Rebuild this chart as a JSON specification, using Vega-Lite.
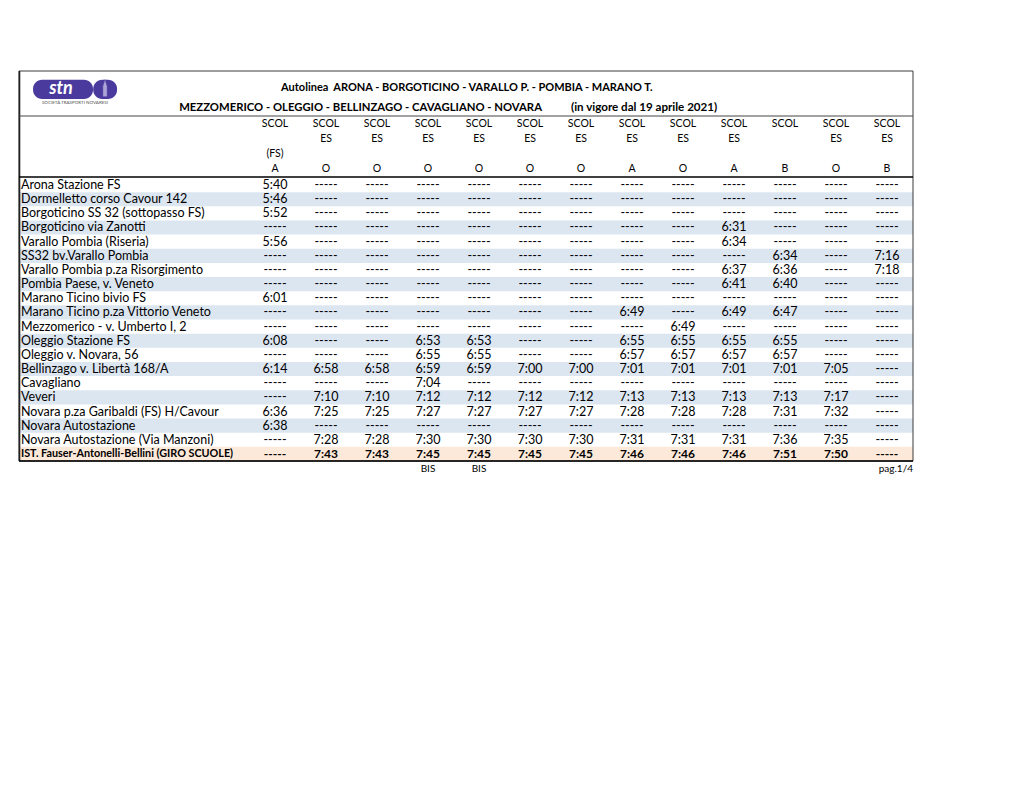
{
"$schema":"https://vega.github.io/schema/vega-lite/v6.json",
"width":1020,"height":788,"padding":0,"autosize":"none","background":"white",
"config":{"view":{"stroke":null},"text":{"font":"Lato","fill":"black"}},
"datasets":{
"stops":[{"stop":"Arona Stazione FS"},{"stop":"Dormelletto corso Cavour 142"},{"stop":"Borgoticino SS 32 (sottopasso FS)"},{"stop":"Borgoticino via Zanotti"},{"stop":"Varallo Pombia (Riseria)"},{"stop":"SS32 bv.Varallo Pombia"},{"stop":"Varallo Pombia p.za Risorgimento"},{"stop":"Pombia Paese, v. Veneto"},{"stop":"Marano Ticino bivio FS"},{"stop":"Marano Ticino p.za Vittorio Veneto"},{"stop":"Mezzomerico - v. Umberto I, 2"},{"stop":"Oleggio Stazione FS"},{"stop":"Oleggio v. Novara, 56"},{"stop":"Bellinzago v. Libertà 168/A"},{"stop":"Cavagliano"},{"stop":"Veveri"},{"stop":"Novara p.za Garibaldi (FS) H/Cavour"},{"stop":"Novara Autostazione"},{"stop":"Novara Autostazione (Via Manzoni)"},{"stop":"IST. Fauser-Antonelli-Bellini (GIRO SCUOLE)"}],
"times":[
{"stop":"Arona Stazione FS","run":1,"time":"5:40"},{"stop":"Arona Stazione FS","run":2,"time":"-----"},{"stop":"Arona Stazione FS","run":3,"time":"-----"},{"stop":"Arona Stazione FS","run":4,"time":"-----"},{"stop":"Arona Stazione FS","run":5,"time":"-----"},{"stop":"Arona Stazione FS","run":6,"time":"-----"},{"stop":"Arona Stazione FS","run":7,"time":"-----"},{"stop":"Arona Stazione FS","run":8,"time":"-----"},{"stop":"Arona Stazione FS","run":9,"time":"-----"},{"stop":"Arona Stazione FS","run":10,"time":"-----"},{"stop":"Arona Stazione FS","run":11,"time":"-----"},{"stop":"Arona Stazione FS","run":12,"time":"-----"},{"stop":"Arona Stazione FS","run":13,"time":"-----"},
{"stop":"Dormelletto corso Cavour 142","run":1,"time":"5:46"},{"stop":"Dormelletto corso Cavour 142","run":2,"time":"-----"},{"stop":"Dormelletto corso Cavour 142","run":3,"time":"-----"},{"stop":"Dormelletto corso Cavour 142","run":4,"time":"-----"},{"stop":"Dormelletto corso Cavour 142","run":5,"time":"-----"},{"stop":"Dormelletto corso Cavour 142","run":6,"time":"-----"},{"stop":"Dormelletto corso Cavour 142","run":7,"time":"-----"},{"stop":"Dormelletto corso Cavour 142","run":8,"time":"-----"},{"stop":"Dormelletto corso Cavour 142","run":9,"time":"-----"},{"stop":"Dormelletto corso Cavour 142","run":10,"time":"-----"},{"stop":"Dormelletto corso Cavour 142","run":11,"time":"-----"},{"stop":"Dormelletto corso Cavour 142","run":12,"time":"-----"},{"stop":"Dormelletto corso Cavour 142","run":13,"time":"-----"},
{"stop":"Borgoticino SS 32 (sottopasso FS)","run":1,"time":"5:52"},{"stop":"Borgoticino SS 32 (sottopasso FS)","run":2,"time":"-----"},{"stop":"Borgoticino SS 32 (sottopasso FS)","run":3,"time":"-----"},{"stop":"Borgoticino SS 32 (sottopasso FS)","run":4,"time":"-----"},{"stop":"Borgoticino SS 32 (sottopasso FS)","run":5,"time":"-----"},{"stop":"Borgoticino SS 32 (sottopasso FS)","run":6,"time":"-----"},{"stop":"Borgoticino SS 32 (sottopasso FS)","run":7,"time":"-----"},{"stop":"Borgoticino SS 32 (sottopasso FS)","run":8,"time":"-----"},{"stop":"Borgoticino SS 32 (sottopasso FS)","run":9,"time":"-----"},{"stop":"Borgoticino SS 32 (sottopasso FS)","run":10,"time":"-----"},{"stop":"Borgoticino SS 32 (sottopasso FS)","run":11,"time":"-----"},{"stop":"Borgoticino SS 32 (sottopasso FS)","run":12,"time":"-----"},{"stop":"Borgoticino SS 32 (sottopasso FS)","run":13,"time":"-----"},
{"stop":"Borgoticino via Zanotti","run":1,"time":"-----"},{"stop":"Borgoticino via Zanotti","run":2,"time":"-----"},{"stop":"Borgoticino via Zanotti","run":3,"time":"-----"},{"stop":"Borgoticino via Zanotti","run":4,"time":"-----"},{"stop":"Borgoticino via Zanotti","run":5,"time":"-----"},{"stop":"Borgoticino via Zanotti","run":6,"time":"-----"},{"stop":"Borgoticino via Zanotti","run":7,"time":"-----"},{"stop":"Borgoticino via Zanotti","run":8,"time":"-----"},{"stop":"Borgoticino via Zanotti","run":9,"time":"-----"},{"stop":"Borgoticino via Zanotti","run":10,"time":"6:31"},{"stop":"Borgoticino via Zanotti","run":11,"time":"-----"},{"stop":"Borgoticino via Zanotti","run":12,"time":"-----"},{"stop":"Borgoticino via Zanotti","run":13,"time":"-----"},
{"stop":"Varallo Pombia (Riseria)","run":1,"time":"5:56"},{"stop":"Varallo Pombia (Riseria)","run":2,"time":"-----"},{"stop":"Varallo Pombia (Riseria)","run":3,"time":"-----"},{"stop":"Varallo Pombia (Riseria)","run":4,"time":"-----"},{"stop":"Varallo Pombia (Riseria)","run":5,"time":"-----"},{"stop":"Varallo Pombia (Riseria)","run":6,"time":"-----"},{"stop":"Varallo Pombia (Riseria)","run":7,"time":"-----"},{"stop":"Varallo Pombia (Riseria)","run":8,"time":"-----"},{"stop":"Varallo Pombia (Riseria)","run":9,"time":"-----"},{"stop":"Varallo Pombia (Riseria)","run":10,"time":"6:34"},{"stop":"Varallo Pombia (Riseria)","run":11,"time":"-----"},{"stop":"Varallo Pombia (Riseria)","run":12,"time":"-----"},{"stop":"Varallo Pombia (Riseria)","run":13,"time":"-----"},
{"stop":"SS32 bv.Varallo Pombia","run":1,"time":"-----"},{"stop":"SS32 bv.Varallo Pombia","run":2,"time":"-----"},{"stop":"SS32 bv.Varallo Pombia","run":3,"time":"-----"},{"stop":"SS32 bv.Varallo Pombia","run":4,"time":"-----"},{"stop":"SS32 bv.Varallo Pombia","run":5,"time":"-----"},{"stop":"SS32 bv.Varallo Pombia","run":6,"time":"-----"},{"stop":"SS32 bv.Varallo Pombia","run":7,"time":"-----"},{"stop":"SS32 bv.Varallo Pombia","run":8,"time":"-----"},{"stop":"SS32 bv.Varallo Pombia","run":9,"time":"-----"},{"stop":"SS32 bv.Varallo Pombia","run":10,"time":"-----"},{"stop":"SS32 bv.Varallo Pombia","run":11,"time":"6:34"},{"stop":"SS32 bv.Varallo Pombia","run":12,"time":"-----"},{"stop":"SS32 bv.Varallo Pombia","run":13,"time":"7:16"},
{"stop":"Varallo Pombia p.za Risorgimento","run":1,"time":"-----"},{"stop":"Varallo Pombia p.za Risorgimento","run":2,"time":"-----"},{"stop":"Varallo Pombia p.za Risorgimento","run":3,"time":"-----"},{"stop":"Varallo Pombia p.za Risorgimento","run":4,"time":"-----"},{"stop":"Varallo Pombia p.za Risorgimento","run":5,"time":"-----"},{"stop":"Varallo Pombia p.za Risorgimento","run":6,"time":"-----"},{"stop":"Varallo Pombia p.za Risorgimento","run":7,"time":"-----"},{"stop":"Varallo Pombia p.za Risorgimento","run":8,"time":"-----"},{"stop":"Varallo Pombia p.za Risorgimento","run":9,"time":"-----"},{"stop":"Varallo Pombia p.za Risorgimento","run":10,"time":"6:37"},{"stop":"Varallo Pombia p.za Risorgimento","run":11,"time":"6:36"},{"stop":"Varallo Pombia p.za Risorgimento","run":12,"time":"-----"},{"stop":"Varallo Pombia p.za Risorgimento","run":13,"time":"7:18"},
{"stop":"Pombia Paese, v. Veneto","run":1,"time":"-----"},{"stop":"Pombia Paese, v. Veneto","run":2,"time":"-----"},{"stop":"Pombia Paese, v. Veneto","run":3,"time":"-----"},{"stop":"Pombia Paese, v. Veneto","run":4,"time":"-----"},{"stop":"Pombia Paese, v. Veneto","run":5,"time":"-----"},{"stop":"Pombia Paese, v. Veneto","run":6,"time":"-----"},{"stop":"Pombia Paese, v. Veneto","run":7,"time":"-----"},{"stop":"Pombia Paese, v. Veneto","run":8,"time":"-----"},{"stop":"Pombia Paese, v. Veneto","run":9,"time":"-----"},{"stop":"Pombia Paese, v. Veneto","run":10,"time":"6:41"},{"stop":"Pombia Paese, v. Veneto","run":11,"time":"6:40"},{"stop":"Pombia Paese, v. Veneto","run":12,"time":"-----"},{"stop":"Pombia Paese, v. Veneto","run":13,"time":"-----"},
{"stop":"Marano Ticino bivio FS","run":1,"time":"6:01"},{"stop":"Marano Ticino bivio FS","run":2,"time":"-----"},{"stop":"Marano Ticino bivio FS","run":3,"time":"-----"},{"stop":"Marano Ticino bivio FS","run":4,"time":"-----"},{"stop":"Marano Ticino bivio FS","run":5,"time":"-----"},{"stop":"Marano Ticino bivio FS","run":6,"time":"-----"},{"stop":"Marano Ticino bivio FS","run":7,"time":"-----"},{"stop":"Marano Ticino bivio FS","run":8,"time":"-----"},{"stop":"Marano Ticino bivio FS","run":9,"time":"-----"},{"stop":"Marano Ticino bivio FS","run":10,"time":"-----"},{"stop":"Marano Ticino bivio FS","run":11,"time":"-----"},{"stop":"Marano Ticino bivio FS","run":12,"time":"-----"},{"stop":"Marano Ticino bivio FS","run":13,"time":"-----"},
{"stop":"Marano Ticino p.za Vittorio Veneto","run":1,"time":"-----"},{"stop":"Marano Ticino p.za Vittorio Veneto","run":2,"time":"-----"},{"stop":"Marano Ticino p.za Vittorio Veneto","run":3,"time":"-----"},{"stop":"Marano Ticino p.za Vittorio Veneto","run":4,"time":"-----"},{"stop":"Marano Ticino p.za Vittorio Veneto","run":5,"time":"-----"},{"stop":"Marano Ticino p.za Vittorio Veneto","run":6,"time":"-----"},{"stop":"Marano Ticino p.za Vittorio Veneto","run":7,"time":"-----"},{"stop":"Marano Ticino p.za Vittorio Veneto","run":8,"time":"6:49"},{"stop":"Marano Ticino p.za Vittorio Veneto","run":9,"time":"-----"},{"stop":"Marano Ticino p.za Vittorio Veneto","run":10,"time":"6:49"},{"stop":"Marano Ticino p.za Vittorio Veneto","run":11,"time":"6:47"},{"stop":"Marano Ticino p.za Vittorio Veneto","run":12,"time":"-----"},{"stop":"Marano Ticino p.za Vittorio Veneto","run":13,"time":"-----"},
{"stop":"Mezzomerico - v. Umberto I, 2","run":1,"time":"-----"},{"stop":"Mezzomerico - v. Umberto I, 2","run":2,"time":"-----"},{"stop":"Mezzomerico - v. Umberto I, 2","run":3,"time":"-----"},{"stop":"Mezzomerico - v. Umberto I, 2","run":4,"time":"-----"},{"stop":"Mezzomerico - v. Umberto I, 2","run":5,"time":"-----"},{"stop":"Mezzomerico - v. Umberto I, 2","run":6,"time":"-----"},{"stop":"Mezzomerico - v. Umberto I, 2","run":7,"time":"-----"},{"stop":"Mezzomerico - v. Umberto I, 2","run":8,"time":"-----"},{"stop":"Mezzomerico - v. Umberto I, 2","run":9,"time":"6:49"},{"stop":"Mezzomerico - v. Umberto I, 2","run":10,"time":"-----"},{"stop":"Mezzomerico - v. Umberto I, 2","run":11,"time":"-----"},{"stop":"Mezzomerico - v. Umberto I, 2","run":12,"time":"-----"},{"stop":"Mezzomerico - v. Umberto I, 2","run":13,"time":"-----"},
{"stop":"Oleggio Stazione FS","run":1,"time":"6:08"},{"stop":"Oleggio Stazione FS","run":2,"time":"-----"},{"stop":"Oleggio Stazione FS","run":3,"time":"-----"},{"stop":"Oleggio Stazione FS","run":4,"time":"6:53"},{"stop":"Oleggio Stazione FS","run":5,"time":"6:53"},{"stop":"Oleggio Stazione FS","run":6,"time":"-----"},{"stop":"Oleggio Stazione FS","run":7,"time":"-----"},{"stop":"Oleggio Stazione FS","run":8,"time":"6:55"},{"stop":"Oleggio Stazione FS","run":9,"time":"6:55"},{"stop":"Oleggio Stazione FS","run":10,"time":"6:55"},{"stop":"Oleggio Stazione FS","run":11,"time":"6:55"},{"stop":"Oleggio Stazione FS","run":12,"time":"-----"},{"stop":"Oleggio Stazione FS","run":13,"time":"-----"},
{"stop":"Oleggio v. Novara, 56","run":1,"time":"-----"},{"stop":"Oleggio v. Novara, 56","run":2,"time":"-----"},{"stop":"Oleggio v. Novara, 56","run":3,"time":"-----"},{"stop":"Oleggio v. Novara, 56","run":4,"time":"6:55"},{"stop":"Oleggio v. Novara, 56","run":5,"time":"6:55"},{"stop":"Oleggio v. Novara, 56","run":6,"time":"-----"},{"stop":"Oleggio v. Novara, 56","run":7,"time":"-----"},{"stop":"Oleggio v. Novara, 56","run":8,"time":"6:57"},{"stop":"Oleggio v. Novara, 56","run":9,"time":"6:57"},{"stop":"Oleggio v. Novara, 56","run":10,"time":"6:57"},{"stop":"Oleggio v. Novara, 56","run":11,"time":"6:57"},{"stop":"Oleggio v. Novara, 56","run":12,"time":"-----"},{"stop":"Oleggio v. Novara, 56","run":13,"time":"-----"},
{"stop":"Bellinzago v. Libertà 168/A","run":1,"time":"6:14"},{"stop":"Bellinzago v. Libertà 168/A","run":2,"time":"6:58"},{"stop":"Bellinzago v. Libertà 168/A","run":3,"time":"6:58"},{"stop":"Bellinzago v. Libertà 168/A","run":4,"time":"6:59"},{"stop":"Bellinzago v. Libertà 168/A","run":5,"time":"6:59"},{"stop":"Bellinzago v. Libertà 168/A","run":6,"time":"7:00"},{"stop":"Bellinzago v. Libertà 168/A","run":7,"time":"7:00"},{"stop":"Bellinzago v. Libertà 168/A","run":8,"time":"7:01"},{"stop":"Bellinzago v. Libertà 168/A","run":9,"time":"7:01"},{"stop":"Bellinzago v. Libertà 168/A","run":10,"time":"7:01"},{"stop":"Bellinzago v. Libertà 168/A","run":11,"time":"7:01"},{"stop":"Bellinzago v. Libertà 168/A","run":12,"time":"7:05"},{"stop":"Bellinzago v. Libertà 168/A","run":13,"time":"-----"},
{"stop":"Cavagliano","run":1,"time":"-----"},{"stop":"Cavagliano","run":2,"time":"-----"},{"stop":"Cavagliano","run":3,"time":"-----"},{"stop":"Cavagliano","run":4,"time":"7:04"},{"stop":"Cavagliano","run":5,"time":"-----"},{"stop":"Cavagliano","run":6,"time":"-----"},{"stop":"Cavagliano","run":7,"time":"-----"},{"stop":"Cavagliano","run":8,"time":"-----"},{"stop":"Cavagliano","run":9,"time":"-----"},{"stop":"Cavagliano","run":10,"time":"-----"},{"stop":"Cavagliano","run":11,"time":"-----"},{"stop":"Cavagliano","run":12,"time":"-----"},{"stop":"Cavagliano","run":13,"time":"-----"},
{"stop":"Veveri","run":1,"time":"-----"},{"stop":"Veveri","run":2,"time":"7:10"},{"stop":"Veveri","run":3,"time":"7:10"},{"stop":"Veveri","run":4,"time":"7:12"},{"stop":"Veveri","run":5,"time":"7:12"},{"stop":"Veveri","run":6,"time":"7:12"},{"stop":"Veveri","run":7,"time":"7:12"},{"stop":"Veveri","run":8,"time":"7:13"},{"stop":"Veveri","run":9,"time":"7:13"},{"stop":"Veveri","run":10,"time":"7:13"},{"stop":"Veveri","run":11,"time":"7:13"},{"stop":"Veveri","run":12,"time":"7:17"},{"stop":"Veveri","run":13,"time":"-----"},
{"stop":"Novara p.za Garibaldi (FS) H/Cavour","run":1,"time":"6:36"},{"stop":"Novara p.za Garibaldi (FS) H/Cavour","run":2,"time":"7:25"},{"stop":"Novara p.za Garibaldi (FS) H/Cavour","run":3,"time":"7:25"},{"stop":"Novara p.za Garibaldi (FS) H/Cavour","run":4,"time":"7:27"},{"stop":"Novara p.za Garibaldi (FS) H/Cavour","run":5,"time":"7:27"},{"stop":"Novara p.za Garibaldi (FS) H/Cavour","run":6,"time":"7:27"},{"stop":"Novara p.za Garibaldi (FS) H/Cavour","run":7,"time":"7:27"},{"stop":"Novara p.za Garibaldi (FS) H/Cavour","run":8,"time":"7:28"},{"stop":"Novara p.za Garibaldi (FS) H/Cavour","run":9,"time":"7:28"},{"stop":"Novara p.za Garibaldi (FS) H/Cavour","run":10,"time":"7:28"},{"stop":"Novara p.za Garibaldi (FS) H/Cavour","run":11,"time":"7:31"},{"stop":"Novara p.za Garibaldi (FS) H/Cavour","run":12,"time":"7:32"},{"stop":"Novara p.za Garibaldi (FS) H/Cavour","run":13,"time":"-----"},
{"stop":"Novara Autostazione","run":1,"time":"6:38"},{"stop":"Novara Autostazione","run":2,"time":"-----"},{"stop":"Novara Autostazione","run":3,"time":"-----"},{"stop":"Novara Autostazione","run":4,"time":"-----"},{"stop":"Novara Autostazione","run":5,"time":"-----"},{"stop":"Novara Autostazione","run":6,"time":"-----"},{"stop":"Novara Autostazione","run":7,"time":"-----"},{"stop":"Novara Autostazione","run":8,"time":"-----"},{"stop":"Novara Autostazione","run":9,"time":"-----"},{"stop":"Novara Autostazione","run":10,"time":"-----"},{"stop":"Novara Autostazione","run":11,"time":"-----"},{"stop":"Novara Autostazione","run":12,"time":"-----"},{"stop":"Novara Autostazione","run":13,"time":"-----"},
{"stop":"Novara Autostazione (Via Manzoni)","run":1,"time":"-----"},{"stop":"Novara Autostazione (Via Manzoni)","run":2,"time":"7:28"},{"stop":"Novara Autostazione (Via Manzoni)","run":3,"time":"7:28"},{"stop":"Novara Autostazione (Via Manzoni)","run":4,"time":"7:30"},{"stop":"Novara Autostazione (Via Manzoni)","run":5,"time":"7:30"},{"stop":"Novara Autostazione (Via Manzoni)","run":6,"time":"7:30"},{"stop":"Novara Autostazione (Via Manzoni)","run":7,"time":"7:30"},{"stop":"Novara Autostazione (Via Manzoni)","run":8,"time":"7:31"},{"stop":"Novara Autostazione (Via Manzoni)","run":9,"time":"7:31"},{"stop":"Novara Autostazione (Via Manzoni)","run":10,"time":"7:31"},{"stop":"Novara Autostazione (Via Manzoni)","run":11,"time":"7:36"},{"stop":"Novara Autostazione (Via Manzoni)","run":12,"time":"7:35"},{"stop":"Novara Autostazione (Via Manzoni)","run":13,"time":"-----"},
{"stop":"IST. Fauser-Antonelli-Bellini (GIRO SCUOLE)","run":1,"time":"-----"},{"stop":"IST. Fauser-Antonelli-Bellini (GIRO SCUOLE)","run":2,"time":"7:43"},{"stop":"IST. Fauser-Antonelli-Bellini (GIRO SCUOLE)","run":3,"time":"7:43"},{"stop":"IST. Fauser-Antonelli-Bellini (GIRO SCUOLE)","run":4,"time":"7:45"},{"stop":"IST. Fauser-Antonelli-Bellini (GIRO SCUOLE)","run":5,"time":"7:45"},{"stop":"IST. Fauser-Antonelli-Bellini (GIRO SCUOLE)","run":6,"time":"7:45"},{"stop":"IST. Fauser-Antonelli-Bellini (GIRO SCUOLE)","run":7,"time":"7:45"},{"stop":"IST. Fauser-Antonelli-Bellini (GIRO SCUOLE)","run":8,"time":"7:46"},{"stop":"IST. Fauser-Antonelli-Bellini (GIRO SCUOLE)","run":9,"time":"7:46"},{"stop":"IST. Fauser-Antonelli-Bellini (GIRO SCUOLE)","run":10,"time":"7:46"},{"stop":"IST. Fauser-Antonelli-Bellini (GIRO SCUOLE)","run":11,"time":"7:51"},{"stop":"IST. Fauser-Antonelli-Bellini (GIRO SCUOLE)","run":12,"time":"7:50"},{"stop":"IST. Fauser-Antonelli-Bellini (GIRO SCUOLE)","run":13,"time":"-----"}
],
"header":[
{"run":1,"line":"l1","label":"SCOL"},{"run":2,"line":"l1","label":"SCOL"},{"run":3,"line":"l1","label":"SCOL"},{"run":4,"line":"l1","label":"SCOL"},{"run":5,"line":"l1","label":"SCOL"},{"run":6,"line":"l1","label":"SCOL"},{"run":7,"line":"l1","label":"SCOL"},{"run":8,"line":"l1","label":"SCOL"},{"run":9,"line":"l1","label":"SCOL"},{"run":10,"line":"l1","label":"SCOL"},{"run":11,"line":"l1","label":"SCOL"},{"run":12,"line":"l1","label":"SCOL"},{"run":13,"line":"l1","label":"SCOL"},
{"run":2,"line":"l2","label":"ES"},{"run":3,"line":"l2","label":"ES"},{"run":4,"line":"l2","label":"ES"},{"run":5,"line":"l2","label":"ES"},{"run":6,"line":"l2","label":"ES"},{"run":7,"line":"l2","label":"ES"},{"run":8,"line":"l2","label":"ES"},{"run":9,"line":"l2","label":"ES"},{"run":10,"line":"l2","label":"ES"},{"run":12,"line":"l2","label":"ES"},{"run":13,"line":"l2","label":"ES"},
{"run":1,"line":"l3","label":"(FS)"},
{"run":1,"line":"l4","label":"A"},{"run":2,"line":"l4","label":"O"},{"run":3,"line":"l4","label":"O"},{"run":4,"line":"l4","label":"O"},{"run":5,"line":"l4","label":"O"},{"run":6,"line":"l4","label":"O"},{"run":7,"line":"l4","label":"O"},{"run":8,"line":"l4","label":"A"},{"run":9,"line":"l4","label":"O"},{"run":10,"line":"l4","label":"A"},{"run":11,"line":"l4","label":"B"},{"run":12,"line":"l4","label":"O"},{"run":13,"line":"l4","label":"B"}
],
"footer":[{"run":4,"label":"BIS"},{"run":5,"label":"BIS"}]
},
"resolve":{"scale":{"x":"independent","y":"independent","color":"independent","size":"independent"}},
"layer":[
{"data":{"name":"stops"},"transform":[{"filter":{"field":"stop","oneOf":["Dormelletto corso Cavour 142","Borgoticino via Zanotti","SS32 bv.Varallo Pombia","Pombia Paese, v. Veneto","Marano Ticino p.za Vittorio Veneto","Oleggio Stazione FS","Bellinzago v. Libertà 168/A","Veveri","Novara Autostazione"]}}],
 "mark":{"type":"rect","fill":"#dce6f1"},
 "encoding":{"y":{"field":"stop","type":"nominal","axis":null,"scale":{"type":"band","domain":{"data":"stops","field":"stop"},"range":[178,461],"paddingInner":0,"paddingOuter":0}},
 "x":{"datum":0,"type":"quantitative","axis":null,"scale":{"domain":[0,1],"range":[19,913]}},"x2":{"datum":1}}},
{"data":{"name":"stops"},"transform":[{"filter":{"field":"stop","equal":"IST. Fauser-Antonelli-Bellini (GIRO SCUOLE)"}}],
 "mark":{"type":"rect","fill":"#fde9d9"},
 "encoding":{"y":{"field":"stop","type":"nominal","axis":null,"scale":{"type":"band","domain":["Arona Stazione FS","Dormelletto corso Cavour 142","Borgoticino SS 32 (sottopasso FS)","Borgoticino via Zanotti","Varallo Pombia (Riseria)","SS32 bv.Varallo Pombia","Varallo Pombia p.za Risorgimento","Pombia Paese, v. Veneto","Marano Ticino bivio FS","Marano Ticino p.za Vittorio Veneto","Mezzomerico - v. Umberto I, 2","Oleggio Stazione FS","Oleggio v. Novara, 56","Bellinzago v. Libertà 168/A","Cavagliano","Veveri","Novara p.za Garibaldi (FS) H/Cavour","Novara Autostazione","Novara Autostazione (Via Manzoni)","IST. Fauser-Antonelli-Bellini (GIRO SCUOLE)"],"range":[178,461],"paddingInner":0,"paddingOuter":0}},
 "x":{"datum":0,"type":"quantitative","axis":null,"scale":{"domain":[0,1],"range":[19,913]}},"x2":{"datum":1}}},
{"data":{"values":[{}]},"mark":{"type":"rect","fill":"transparent","stroke":"#3a3a3a","strokeWidth":1},
 "encoding":{"x":{"datum":0,"type":"quantitative","axis":null,"scale":{"domain":[0,1],"range":[19,913]}},"x2":{"datum":1},
 "y":{"datum":0,"type":"quantitative","axis":null,"scale":{"domain":[0,1],"range":[71,461]}},"y2":{"datum":1}}},
{"data":{"values":[{}]},"mark":{"type":"rule","stroke":"#222","strokeWidth":1.6},
 "encoding":{"x":{"datum":0,"type":"quantitative","axis":null,"scale":{"domain":[0,1],"range":[19.5,19.5]}},
 "y":{"datum":0,"type":"quantitative","axis":null,"scale":{"domain":[0,1],"range":[71,461]}},"y2":{"datum":1}}},
{"data":{"values":[{}]},"mark":{"type":"rule","stroke":"#444","strokeWidth":1},
 "encoding":{"x":{"datum":0,"type":"quantitative","axis":null,"scale":{"domain":[0,1],"range":[19,913]}},"x2":{"datum":1},
 "y":{"datum":0.1154,"type":"quantitative","axis":null,"scale":{"domain":[0,1],"range":[71,461]}}}},
{"data":{"values":[{}]},"mark":{"type":"rule","stroke":"#000","strokeWidth":1.6},
 "encoding":{"x":{"datum":0,"type":"quantitative","axis":null,"scale":{"domain":[0,1],"range":[19,913]}},"x2":{"datum":1},
 "y":{"datum":0.2718,"type":"quantitative","axis":null,"scale":{"domain":[0,1],"range":[71,461]}}}},
{"data":{"values":[{}]},"mark":{"type":"rule","stroke":"#000","strokeWidth":1.6},
 "encoding":{"x":{"datum":0,"type":"quantitative","axis":null,"scale":{"domain":[0,1],"range":[19,913]}},"x2":{"datum":1},
 "y":{"datum":1,"type":"quantitative","axis":null,"scale":{"domain":[0,1],"range":[71,461]}}}},
{"data":{"name":"stops"},"transform":[{"filter":{"not":{"field":"stop","equal":"IST. Fauser-Antonelli-Bellini (GIRO SCUOLE)"}}}],
 "mark":{"type":"text","align":"left","baseline":"middle","fontSize":12.5,"dx":2,"font":"Lato"},
 "encoding":{"y":{"field":"stop","type":"nominal","axis":null,"scale":{"type":"point","domain":{"data":"stops","field":"stop"},"range":[185,454],"padding":0}},
 "x":{"datum":0,"type":"quantitative","axis":null,"scale":{"domain":[0,1],"range":[19,913]}},"text":{"field":"stop"}}},
{"data":{"name":"stops"},"transform":[{"filter":{"field":"stop","equal":"IST. Fauser-Antonelli-Bellini (GIRO SCUOLE)"}}],
 "mark":{"type":"text","align":"left","baseline":"middle","fontSize":10.8,"fontWeight":"bold","dx":2,"font":"Lato"},
 "encoding":{"y":{"datum":1,"type":"quantitative","axis":null,"scale":{"domain":[0,1],"range":[185,454]}},
 "x":{"datum":0,"type":"quantitative","axis":null,"scale":{"domain":[0,1],"range":[19,913]}},"text":{"field":"stop"}}},
{"data":{"name":"times"},"transform":[{"filter":{"not":{"field":"stop","equal":"IST. Fauser-Antonelli-Bellini (GIRO SCUOLE)"}}}],
 "mark":{"type":"text","align":"center","baseline":"middle","fontSize":12.5,"font":"Lato"},
 "encoding":{"y":{"field":"stop","type":"nominal","axis":null,"scale":{"type":"point","domain":{"data":"stops","field":"stop"},"range":[185,454],"padding":0}},
 "x":{"field":"run","type":"ordinal","axis":null,"scale":{"type":"point","domain":[1,2,3,4,5,6,7,8,9,10,11,12,13],"range":[275,887],"padding":0}},"text":{"field":"time"}}},
{"data":{"name":"times"},"transform":[{"filter":{"field":"stop","equal":"IST. Fauser-Antonelli-Bellini (GIRO SCUOLE)"}}],
 "mark":{"type":"text","align":"center","baseline":"middle","fontSize":12,"fontWeight":"bold","font":"Lato"},
 "encoding":{"y":{"datum":1,"type":"quantitative","axis":null,"scale":{"domain":[0,1],"range":[185,454]}},
 "x":{"field":"run","type":"ordinal","axis":null,"scale":{"type":"point","domain":[1,2,3,4,5,6,7,8,9,10,11,12,13],"range":[275,887],"padding":0}},"text":{"field":"time"}}},
{"data":{"name":"header"},
 "mark":{"type":"text","align":"center","baseline":"middle","fontSize":10.5,"font":"Lato"},
 "encoding":{"y":{"field":"line","type":"nominal","axis":null,"scale":{"type":"point","domain":["l1","l2","l3","l4"],"range":[124,169],"padding":0}},
 "x":{"field":"run","type":"ordinal","axis":null,"scale":{"type":"point","domain":[1,2,3,4,5,6,7,8,9,10,11,12,13],"range":[275,887],"padding":0}},"text":{"field":"label"}}},
{"data":{"name":"footer"},
 "mark":{"type":"text","align":"center","baseline":"middle","fontSize":10,"font":"Lato"},
 "encoding":{"y":{"datum":1.0205,"type":"quantitative","axis":null,"scale":{"domain":[0,1],"range":[71,461]}},
 "x":{"field":"run","type":"ordinal","axis":null,"scale":{"type":"point","domain":[1,2,3,4,5,6,7,8,9,10,11,12,13],"range":[275,887],"padding":0}},"text":{"field":"label"}}},
{"data":{"values":[{"label":"pag.1/4"}]},
 "mark":{"type":"text","align":"right","baseline":"middle","fontSize":10,"font":"Lato"},
 "encoding":{"y":{"datum":1.0205,"type":"quantitative","axis":null,"scale":{"domain":[0,1],"range":[71,461]}},
 "x":{"datum":1,"type":"quantitative","axis":null,"scale":{"domain":[0,1],"range":[19,913]}},"text":{"field":"label"}}},
{"data":{"values":[{"label":"Autolinea\u00a0\u00a0ARONA - BORGOTICINO - VARALLO P. - POMBIA - MARANO T."}]},
 "mark":{"type":"text","align":"center","baseline":"middle","fontSize":11,"fontWeight":"bold","font":"Lato"},
 "encoding":{"y":{"datum":0.0436,"type":"quantitative","axis":null,"scale":{"domain":[0,1],"range":[71,461]}},
 "x":{"datum":0.501,"type":"quantitative","axis":null,"scale":{"domain":[0,1],"range":[19,913]}},"text":{"field":"label"}}},
{"data":{"values":[{"label":"MEZZOMERICO - OLEGGIO - BELLINZAGO - CAVAGLIANO - NOVARA"}]},
 "mark":{"type":"text","align":"right","baseline":"middle","fontSize":11.3,"fontWeight":"bold","font":"Lato"},
 "encoding":{"y":{"datum":0.0949,"type":"quantitative","axis":null,"scale":{"domain":[0,1],"range":[71,461]}},
 "x":{"datum":0.585,"type":"quantitative","axis":null,"scale":{"domain":[0,1],"range":[19,913]}},"text":{"field":"label"}}},
{"data":{"values":[{"label":"(in vigore dal 19 aprile 2021)"}]},
 "mark":{"type":"text","align":"left","baseline":"middle","fontSize":11.6,"fontWeight":"bold","font":"Lato"},
 "encoding":{"y":{"datum":0.0949,"type":"quantitative","axis":null,"scale":{"domain":[0,1],"range":[71,461]}},
 "x":{"datum":0.6174,"type":"quantitative","axis":null,"scale":{"domain":[0,1],"range":[19,913]}},"text":{"field":"label"}}},
{"data":{"values":[{}]},"mark":{"type":"rect","fill":"#4b3a9e","cornerRadius":9},
 "encoding":{"x":{"datum":0.0157,"type":"quantitative","axis":null,"scale":{"domain":[0,1],"range":[19,913]}},"x2":{"datum":0.0828},
 "y":{"datum":0.0226,"type":"quantitative","axis":null,"scale":{"domain":[0,1],"range":[71,461]}},"y2":{"datum":0.0718}}},
{"data":{"values":[{}]},"mark":{"type":"rect","fill":"#4b3a9e","cornerRadius":9},
 "encoding":{"x":{"datum":0.083,"type":"quantitative","axis":null,"scale":{"domain":[0,1],"range":[19,913]}},"x2":{"datum":0.1097},
 "y":{"datum":0.0226,"type":"quantitative","axis":null,"scale":{"domain":[0,1],"range":[71,461]}},"y2":{"datum":0.0718}}},
{"data":{"values":[{"label":"stn"}]},
 "mark":{"type":"text","align":"center","baseline":"middle","fontSize":18,"fontWeight":"bold","fontStyle":"italic","font":"Lato","fill":"white"},
 "encoding":{"y":{"datum":0.046,"type":"quantitative","axis":null,"scale":{"domain":[0,1],"range":[71,461]}},
 "x":{"datum":0.047,"type":"quantitative","axis":null,"scale":{"domain":[0,1],"range":[19,913]}},"text":{"field":"label"}}},
{"data":{"values":[{}]},"mark":{"type":"point","shape":"M-0.25,1L-0.25,-0.2L0,-1L0.25,-0.2L0.25,1Z","filled":true,"fill":"#d9d3f0","stroke":"#4b3a9e","strokeWidth":0.5,"size":300},
 "encoding":{"x":{"datum":0.0962,"type":"quantitative","axis":null,"scale":{"domain":[0,1],"range":[19,913]}},
 "y":{"datum":0.0436,"type":"quantitative","axis":null,"scale":{"domain":[0,1],"range":[71,461]}}}},
{"data":{"values":[{"label":"SOCIETÀ TRASPORTI NOVARESI"}]},
 "mark":{"type":"text","align":"center","baseline":"middle","fontSize":4.5,"font":"Lato","fill":"#555"},
 "encoding":{"y":{"datum":0.082,"type":"quantitative","axis":null,"scale":{"domain":[0,1],"range":[71,461]}},
 "x":{"datum":0.0626,"type":"quantitative","axis":null,"scale":{"domain":[0,1],"range":[19,913]}},"text":{"field":"label"}}}
]
}
